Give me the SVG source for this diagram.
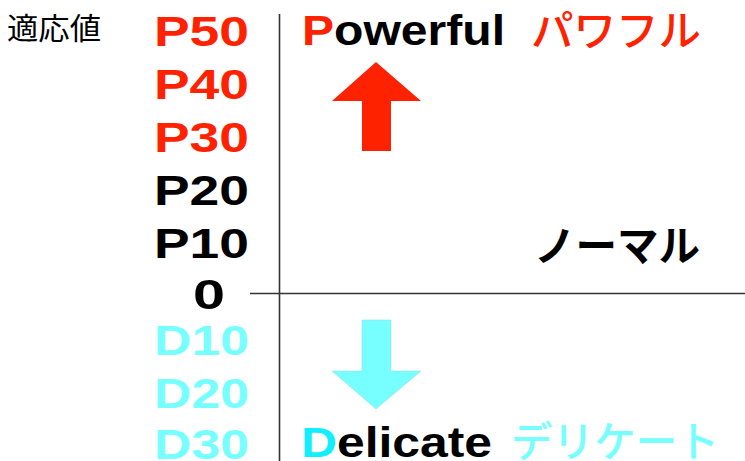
<svg xmlns="http://www.w3.org/2000/svg" width="745" height="461" viewBox="0 0 745 461">
<style>
.lat{font-family:"Liberation Sans",Arial,sans-serif;font-weight:bold;font-size:42px}
.jp{font-family:"Noto Sans CJK JP","Noto Sans",sans-serif;font-size:42px;font-weight:500}
.jpb{font-weight:bold}
.red{fill:#ff2200}
.cyan{fill:#77ffff}
.blk{fill:#000000}
</style>
<rect width="745" height="461" fill="#ffffff"/>
<g id="axes" stroke="#333333" stroke-width="1.6">
  <line x1="279.5" y1="14" x2="279.5" y2="461"/>
  <line x1="250" y1="293.5" x2="745" y2="293.5"/>
</g>
<g id="title">
  <text x="7" y="39" font-family="'Noto Sans CJK JP',sans-serif" font-size="30" fill="#000" textLength="94" lengthAdjust="spacingAndGlyphs">適応値</text>
</g>
<g id="scale" class="lat">
  <text class="red" x="154" y="46" textLength="95" lengthAdjust="spacingAndGlyphs">P50</text>
  <text class="red" x="154" y="99" textLength="95" lengthAdjust="spacingAndGlyphs">P40</text>
  <text class="red" x="154" y="152" textLength="95" lengthAdjust="spacingAndGlyphs">P30</text>
  <text class="blk" x="154" y="205" textLength="95" lengthAdjust="spacingAndGlyphs">P20</text>
  <text class="blk" x="154" y="258" textLength="95" lengthAdjust="spacingAndGlyphs">P10</text>
  <text class="blk" x="193" y="309" textLength="32" lengthAdjust="spacingAndGlyphs">0</text>
  <text class="cyan" x="154" y="355" textLength="95" lengthAdjust="spacingAndGlyphs">D10</text>
  <text class="cyan" x="154" y="408" textLength="95" lengthAdjust="spacingAndGlyphs">D20</text>
  <text class="cyan" x="154" y="459" textLength="95" lengthAdjust="spacingAndGlyphs">D30</text>
</g>
<g id="powerful">
  <text class="lat blk" x="302" y="45" textLength="203" lengthAdjust="spacingAndGlyphs"><tspan class="red">P</tspan>owerful</text>
  <text class="jp red" x="531" y="46" textLength="170" lengthAdjust="spacingAndGlyphs">パワフル</text>
</g>
<g id="normal">
  <text class="jp jpb blk" x="534" y="261" textLength="166" lengthAdjust="spacingAndGlyphs">ノーマル</text>
</g>
<g id="delicate">
  <text class="lat blk" x="301" y="457" textLength="191" lengthAdjust="spacingAndGlyphs"><tspan fill="#11eeff">D</tspan>elicate</text>
  <text class="jp cyan" x="511" y="457" textLength="208" lengthAdjust="spacingAndGlyphs">デリケート</text>
</g>
<g id="arrows">
  <polygon id="up-arrow" points="376,62 421,101 391,101 391,151 362,151 362,101 332,101" fill="#ff2200"/>
  <polygon id="down-arrow" points="362,320 391,320 391,371 421,371 376,409 332,371 362,371" fill="#77ffff" stroke="#99dddd" stroke-width="0.6"/>
</g>
</svg>
